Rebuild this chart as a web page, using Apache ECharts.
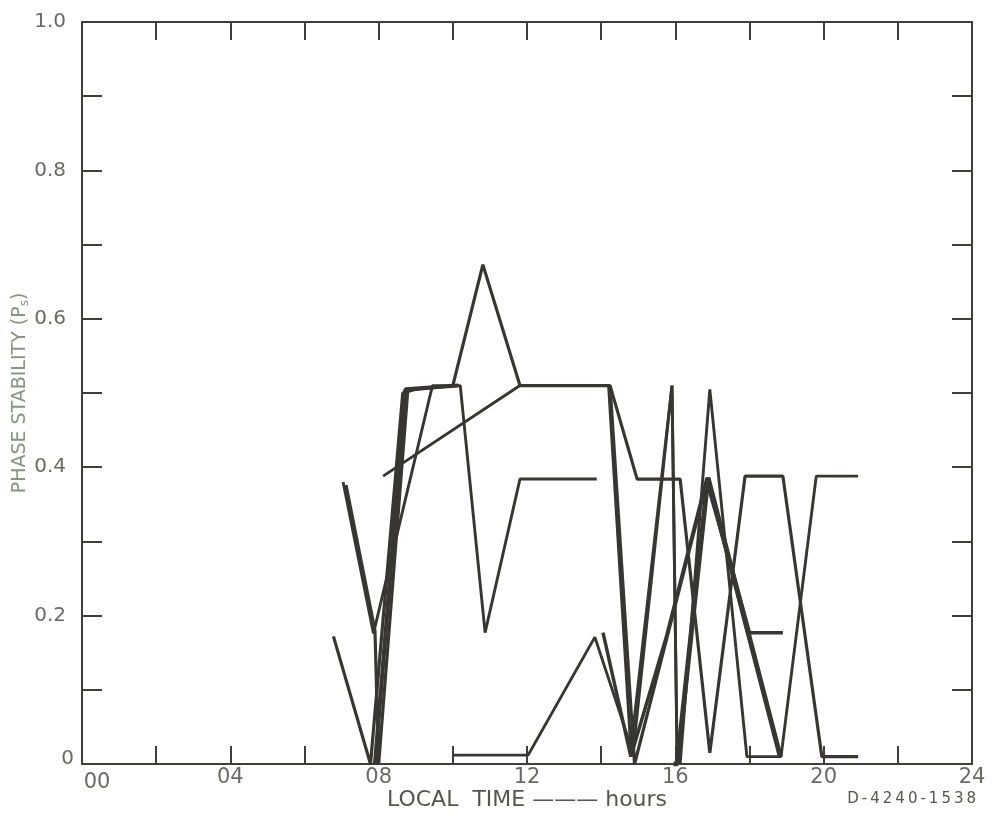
<!DOCTYPE html>
<html>
<head>
<meta charset="utf-8">
<script src="https://cdn.jsdelivr.net/npm/echarts@6/dist/echarts.min.js"></script>
<style>html,body{margin:0;padding:0;background:#fff;}#c{width:992px;height:813px;}</style>
</head>
<body>
<div id="c"></div>
<script>
// x = local time (hours), y = phase stability
const xTicks = [0, 4, 8, 12, 16, 20, 24];
const yTicks = [0, 0.2, 0.4, 0.6, 0.8, 1.0];

const run1 = [[6.78,0.172],[7.78,0.0],[8.65,0.50],[9.0,0.505],[10.0,0.51],[10.81,0.673],[11.81,0.51],[14.24,0.51],[14.97,0.384],[16.13,0.384],[16.93,0.015],[17.88,0.388],[18.9,0.388],[19.95,0.01],[20.93,0.01]];
const run2 = [[7.04,0.38],[7.86,0.176],[9.45,0.51],[10.2,0.51],[10.87,0.177],[11.81,0.384],[13.88,0.384]];
const run3 = [[7.9,0.0],[8.72,0.505],[10.15,0.51]];
const run4 = [[8.12,0.388],[11.81,0.51],[14.2,0.51],[14.8,0.02],[15.91,0.51],[16.05,0.0]];
const run5 = [[9.98,0.012],[12.03,0.012],[13.83,0.171],[14.86,0.015],[15.91,0.51],[16.05,0.0]];
const run6 = [[14.05,0.177],[14.8,0.01],[15.75,0.17],[16.85,0.385],[18.0,0.177],[18.9,0.177]];
const run7 = [[15.95,0.0],[16.05,0.0],[16.88,0.386],[18.83,0.01]];
const run8 = [[16.13,0.0],[16.93,0.505],[17.93,0.01],[18.85,0.01],[19.8,0.388],[20.93,0.388]];
const run9 = [[14.24,0.51],[14.9,0.0],[16.85,0.38],[17.3,0.3],[18.83,0.01]];
const run10 = [[7.12,0.376],[7.9,0.18],[8.0,0.0],[8.78,0.5]];
const runs = [run1, run2, run3, run4, run5, run6, run7, run8, run9, run10];
const thick = [1.1, 1, 1.4, 1, 1, 1.2, 1.7, 1, 1.1, 1.1];

const chart = echarts.init(document.getElementById('c'), null, {renderer: 'canvas'});
const lineCol = '#383631';
const axisCol = '#3e3e3a';
const labCol = '#6a6a64';
const font = 'DejaVu Sans, Liberation Sans, sans-serif';
const TS = '\u2009';
const spaced = s => s.split('').join(TS);

function xAx(pos, show) {
  return {
    type: 'value', position: pos, min: 0, max: 24, interval: 2,
    axisLine: {show: true, onZero: false, lineStyle: {color: axisCol, width: 2}},
    axisTick: {show: true, inside: true, length: 18, lineStyle: {color: axisCol, width: 2}},
    splitLine: {show: false},
    axisLabel: {show: show, color: labCol, fontSize: 21, fontFamily: font, margin: 3,
      formatter: v => {
        if (xTicks.indexOf(v) < 0) return '';
        const s = String(v).padStart(2, '0');
        return v === 0 ? '{z|' + s + '}' : s;
      },
      rich: {z: {color: labCol, fontSize: 21, fontFamily: font, padding: [5, 0, 0, 30]}}},
    name: show ? 'LOCAL  TIME ——— hours' : '',
    nameLocation: 'middle', nameGap: 25, nameMoveOverlap: false,
    nameTextStyle: {color: '#55554f', fontSize: 22, fontFamily: font}
  };
}
function yAx(pos, show) {
  return {
    type: 'value', position: pos, min: 0, max: 1, interval: 0.1,
    axisLine: {show: true, onZero: false, lineStyle: {color: axisCol, width: 2}},
    axisTick: {show: true, inside: true, length: 20, lineStyle: {color: axisCol, width: 2}},
    splitLine: {show: false},
    axisLabel: {show: show, color: labCol, fontSize: 20, fontFamily: font, margin: 16,
      formatter: v => {
        const r = Math.round(v * 10) / 10;
        if (!yTicks.some(t => Math.abs(t - r) < 1e-9)) return '';
        return r === 0 ? '{z|0}' : r.toFixed(1);
      },
      rich: {z: {color: labCol, fontSize: 20, fontFamily: font, padding: [0, -8, 10, 0]}}},
    name: show ? 'PHASE STABILITY (P{sub|s})' : '',
    nameLocation: 'middle', nameGap: 52, nameRotate: 90, nameMoveOverlap: false,
    nameTextStyle: {color: '#86957f', fontSize: 19, fontFamily: font, padding: [0, 0, 0, 0],
      rich: {sub: {fontSize: 12, color: '#86957f', padding: [0,0,-8,0]}}}
  };
}

const series = runs.map((r, i) => ({
  type: 'line', data: r, xAxisIndex: 0, yAxisIndex: 0,
  showSymbol: false, symbol: 'none', smooth: false,
  lineStyle: {color: lineCol, width: 2.9 * thick[i]},
  animation: false, silent: true
}));

chart.setOption({
  animation: false,
  backgroundColor: '#ffffff',
  grid: {left: 82, right: 20, top: 22, bottom: 49, containLabel: false, outerBoundsMode: 'none'},
  xAxis: [xAx('bottom', true), xAx('top', false)],
  yAxis: [yAx('left', true), yAx('right', false)],
  series: series,
  graphic: [{
    type: 'text', right: 16, top: 792,
    style: {text: spaced('D-4240-1538'), fill: '#55554f', fontSize: 15, fontFamily: font}
  }]
});
</script>
</body>
</html>
